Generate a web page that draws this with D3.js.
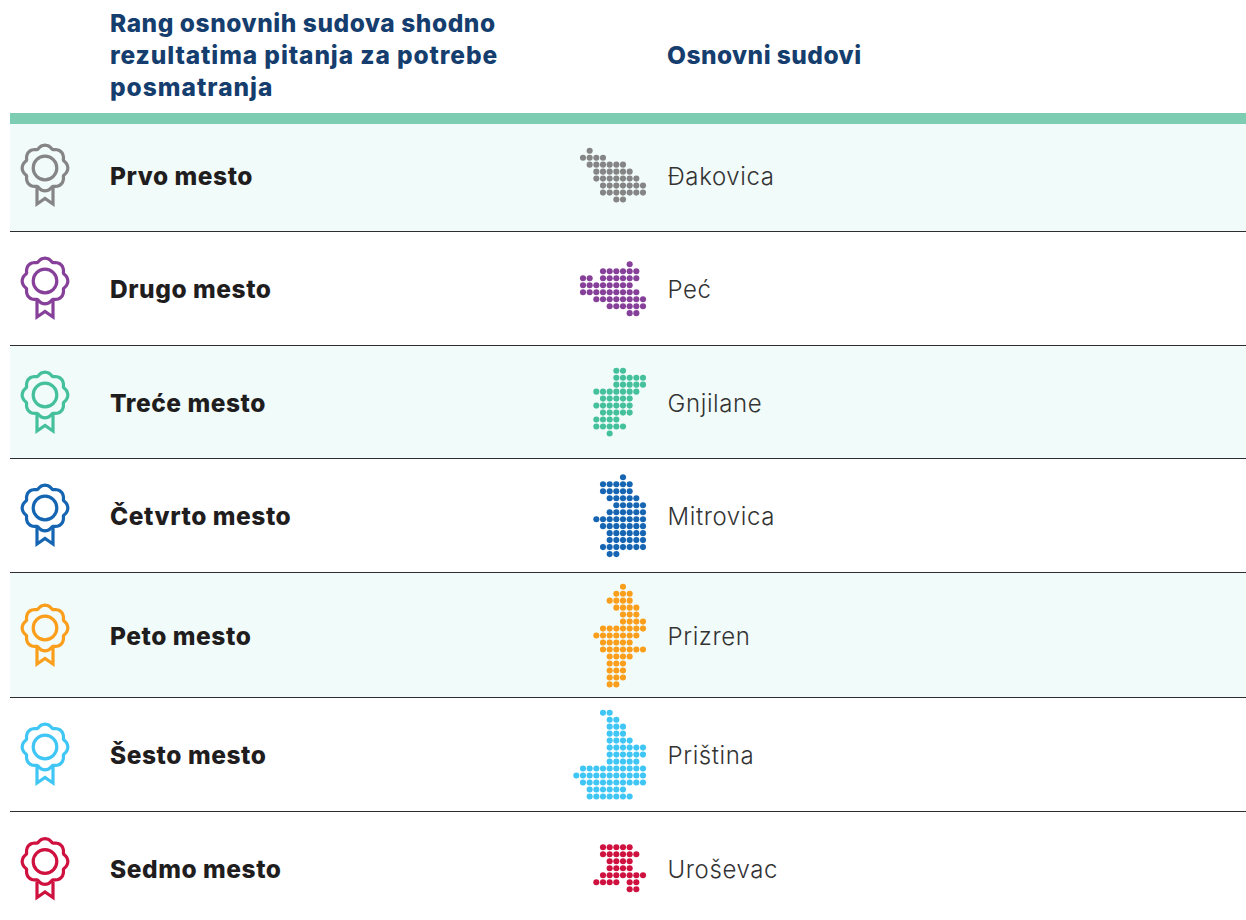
<!DOCTYPE html>
<html><head><meta charset="utf-8">
<script src="https://cdn.jsdelivr.net/npm/d3@7/dist/d3.min.js"></script>
<style>html,body{margin:0;padding:0;background:#fff}svg{display:block}</style>
</head><body><div id="chart"></div>
<script>
const ranks = ["Prvo mesto","Drugo mesto","Treće mesto","Četvrto mesto","Peto mesto","Šesto mesto","Sedmo mesto"];
const courts = ["Đakovica","Peć","Gnjilane","Mitrovica","Prizren","Priština","Uroševac"];
const colors = ["#858585","#86409a","#45c09c","#1565b3","#fa9e1c","#40c6f4","#cf1140"];
const headers = ["Rang osnovnih sudova shodno","rezultatima pitanja za potrebe","posmatranja"];
const header2 = "Osnovni sudovi";
const rowEdges = [124,232,346,459,573,698,812,920];
const mapTops = [150.7,264.3,370.7,477.3,586.7,712.7,847.3];
// column spans per map row, column 0 = leftmost common grid position
const dotMaps = [
 [[[1,1]],[[0,3]],[[1,6]],[[2,7]],[[2,8]],[[3,9]],[[3,9]],[[5,6]]],
 [[[7,7]],[[3,8]],[[0,1],[3,8]],[[0,7]],[[0,8]],[[2,9]],[[4,9]],[[7,8]]],
 [[[5,6]],[[5,9]],[[5,9]],[[2,8]],[[3,7]],[[2,7]],[[3,7]],[[2,5]],[[2,6]],[[4,4]]],
 [[[6,6]],[[3,7]],[[3,7]],[[4,8]],[[5,9]],[[4,9]],[[2,9]],[[3,9]],[[4,9]],[[4,9]],[[3,9]],[[4,5]]],
 [[[6,6]],[[5,7]],[[4,7]],[[5,8]],[[6,8]],[[6,9]],[[3,9]],[[2,8]],[[3,7]],[[3,9]],[[4,7]],[[4,6]],[[4,6]],[[4,6]],[[4,5]]],
 [[[3,4]],[[4,5]],[[4,6]],[[4,6]],[[4,7]],[[4,9]],[[4,9]],[[4,8]],[[0,9]],[[-1,9]],[[0,9]],[[1,6]],[[1,7]]],
 [[[3,7]],[[3,8]],[[4,7]],[[4,7]],[[3,9]],[[2,5],[7,8]],[[7,8]]]
];

const W=1246,H=920,L=10;
const svg=d3.select("#chart").append("svg").attr("width",W).attr("height",H).attr("viewBox",`0 0 ${W} ${H}`);
const colX=d3.scaleLinear().domain([0,9]).range([583,643]);
const rowStep=d3.scaleLinear().domain([0,1]).range([0,6.98]);

// header
const hFont="Inter, 'Open Sans', sans-serif";
const headerSpacing=[0.55,0.9,1.0];
svg.append("g").selectAll("text").data(headers).join("text")
 .attr("x",110).attr("y",(d,i)=>32+i*32)
 .attr("font-family",hFont).attr("font-weight",800).attr("font-size",24.5).attr("letter-spacing",(d,i)=>headerSpacing[i])
 .attr("fill","#153e6e").text(d=>d);
svg.append("text").attr("x",667).attr("y",64).attr("font-family",hFont).attr("font-weight",800)
 .attr("font-size",24.5).attr("letter-spacing",0.45).attr("fill","#153e6e").text(header2);
svg.append("rect").attr("x",L).attr("y",113).attr("width",W-L).attr("height",11).attr("fill","#7dcdb2");

const rows=svg.append("g").selectAll("g").data(ranks).join("g");
rows.append("rect").attr("x",L).attr("y",(d,i)=>rowEdges[i]).attr("width",W-L)
 .attr("height",(d,i)=>rowEdges[i+1]-rowEdges[i]).attr("fill",(d,i)=>(i%2==0&&i<6)?"#f1fbf9":"#fff");
rows.filter((d,i)=>i<6).each(function(d){
 const i=ranks.indexOf(d);
 d3.select(this).append("line").attr("x1",L).attr("x2",W)
  .attr("y1",rowEdges[i+1]).attr("y2",rowEdges[i+1]).attr("stroke","#2e2d31").attr("stroke-width",2.2);
});
const textY=[176,289,403,516,636,755,869];
const iconY=[168,281,395,508,628,747,861.5];
rows.append("text").attr("x",110).attr("y",(d,i)=>textY[i]).attr("dy","0.35em")
 .attr("font-family",hFont).attr("font-weight",800).attr("font-size",24.5).attr("letter-spacing",0.55).attr("fill","#1f1d1e").text(d=>d);
rows.append("text").attr("x",667.5).attr("y",(d,i)=>textY[i]+1).attr("dy","0.35em")
 .attr("font-family","Inter, sans-serif").attr("font-weight",300).attr("font-size",24).attr("letter-spacing",0.6).attr("fill","#333").text((d,i)=>courts[i]);

// rosette icon
const angle=d3.range(0,360,3).map(a=>a*Math.PI/180);
const flower=d3.lineRadial().angle(a=>a).radius(a=>19.8+3*Math.abs(Math.cos(4*a))).curve(d3.curveCardinalClosed);
rows.each(function(d,i){
 const g=d3.select(this).append("g").attr("transform",`translate(45,${iconY[i]})`)
  .attr("fill","none").attr("stroke",colors[i]).attr("stroke-width",3.2).attr("stroke-linejoin","miter");
 g.append("path").attr("d",d3.line()([[-8,20],[-8,36],[0,30.5],[8,36],[8,20]]));
 g.append("path").attr("d",flower(angle));
 g.append("circle").attr("r",11.8);
});

// dot maps
rows.each(function(d,i){
 const pts=[];
 dotMaps[i].forEach((spans,r)=>spans.forEach(([a,b])=>d3.range(a,b+1).forEach(c=>pts.push([c,r]))));
 d3.select(this).append("g").selectAll("circle").data(pts).join("circle")
  .attr("cx",p=>colX(p[0])).attr("cy",p=>mapTops[i]+rowStep(p[1])).attr("r",3.05).attr("fill",colors[i]);
});
</script></body></html>
